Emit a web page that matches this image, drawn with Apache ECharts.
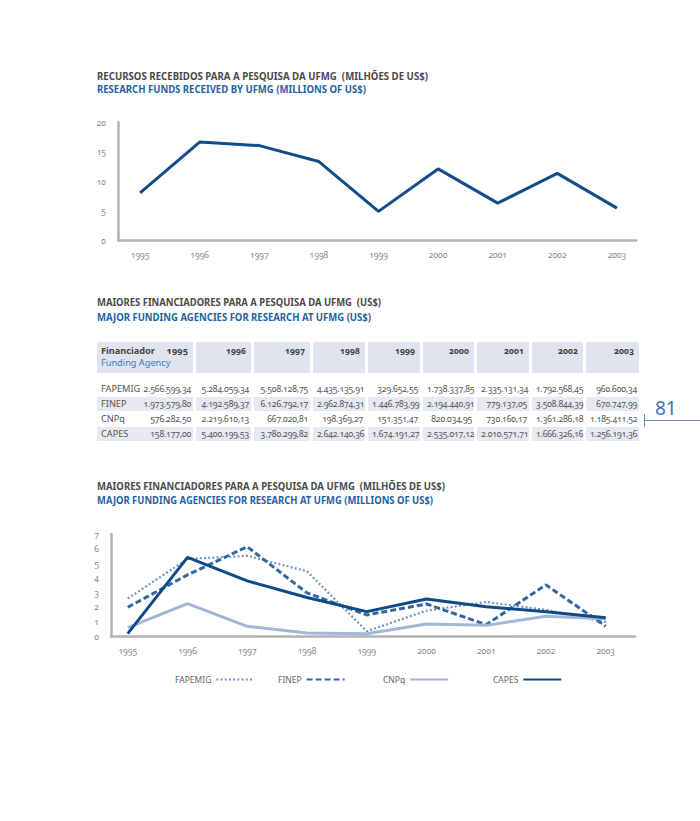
<!DOCTYPE html>
<html><head><meta charset="utf-8">
<script src="https://cdn.jsdelivr.net/npm/echarts@6/dist/echarts.min.js"></script>
<style>
html,body{margin:0;padding:0;background:#fff;width:700px;height:821px;overflow:hidden;}
#chart{position:absolute;left:0;top:0;width:700px;height:821px;}
.t{position:absolute;left:97px;white-space:nowrap;font-family:"Noto Sans";font-weight:700;font-size:10.5px;line-height:12px;transform-origin:0 50%;}
.g{color:#4a4a4a}.b{color:#1f62a4}
svg text{font-variant-numeric:oldstyle-nums !important;}
#tbl{position:absolute;left:94px;top:341px;width:546px;border-collapse:separate;border-spacing:3px 1px;table-layout:fixed;font-family:"Noto Sans";font-size:8.6px;letter-spacing:-0.15px;color:#555;font-variant-numeric:oldstyle-nums;}
#tbl td{padding:0 2px 0 4px;text-align:right;white-space:nowrap;height:14px;line-height:14px;overflow:visible;}
#tbl tr.h td{background:#dfe4ee;height:28px;vertical-align:top;line-height:12px;padding-top:3px;padding-right:5px;font-weight:700;color:#444;letter-spacing:0;}
#tbl tr.s td{height:7px;line-height:7px;}
#tbl tr.sh td{background:#e5e9f1;}
#tbl td.lab{text-align:left;padding-left:4px;font-size:9.2px;letter-spacing:0;}
#tbl td.lab span.r{float:right;font-size:8.6px;letter-spacing:-0.15px;}
#tbl tr.h td.lab span.r{font-size:9.2px;letter-spacing:0;}
#tbl .fa{font-weight:400;color:#3b7cc0;display:block;}
#pg{position:absolute;left:655px;top:398px;font-family:"Noto Sans";font-size:19px;color:#3a72b5;line-height:20px;}
#pgl{position:absolute;left:644px;top:420px;width:56px;height:1px;background:#6a8fc0;}
#pgt{position:absolute;left:644px;top:414px;width:1px;height:13px;background:#6a8fc0;}
</style></head>
<body>
<div id="chart"></div>
<div class="t g" style="top:70px" data-w="331">RECURSOS RECEBIDOS PARA A PESQUISA DA UFMG&nbsp; (MILHÕES DE US$)</div>
<div class="t b" style="top:83px" data-w="269">RESEARCH FUNDS RECEIVED BY UFMG (MILLIONS OF US$)</div>
<div class="t g" style="top:296px" data-w="284">MAIORES FINANCIADORES PARA A PESQUISA DA UFMG&nbsp; (US$)</div>
<div class="t b" style="top:311px" data-w="274">MAJOR FUNDING AGENCIES FOR RESEARCH AT UFMG (US$)</div>
<div class="t g" style="top:480px" data-w="348">MAIORES FINANCIADORES PARA A PESQUISA DA UFMG&nbsp; (MILHÕES DE US$)</div>
<div class="t b" style="top:494px" data-w="336">MAJOR FUNDING AGENCIES FOR RESEARCH AT UFMG (MILLIONS OF US$)</div>
<table id="tbl"></table>
<div id="pg">81</div><div id="pgl"></div><div id="pgt"></div>
<script>
// ---- data ----
const years = [1995, 1996, 1997, 1998, 1999, 2000, 2001, 2002, 2003];
const fundsMillions = [8.0, 16.6, 16.0, 13.3, 4.85, 12.05, 6.25, 11.3, 5.4];
const agencies = ['FAPEMIG', 'FINEP', 'CNPq', 'CAPES'];
const fapemig = [2566599.34, 5284059.34, 5508128.75, 4435135.91, 329652.55, 1738337.85, 2335131.34, 1792568.45, 960600.34];
const finep = [1973579.80, 4192589.37, 6126792.17, 2962874.31, 1446783.99, 2194440.91, 779137.05, 3508844.39, 670747.99];
const cnpq = [576282.50, 2219610.13, 667020.81, 198369.27, 151351.47, 820034.95, 730160.17, 1361286.18, 1185411.52];
const capes = [158177.00, 5400199.53, 3780299.82, 2642140.36, 1674191.27, 2535017.12, 2010571.71, 1666326.16, 1256191.36];
const agencyValues = [fapemig, finep, cnpq, capes];
const tableHeaderPT = 'Financiador';
const tableHeaderEN = 'Funding Agency';

// ---- fit titles ----
document.querySelectorAll('.t').forEach(el => {
  const w = el.getBoundingClientRect().width;
  el.style.transform = 'scaleX(' + (+el.dataset.w / w) + ')';
});

// ---- table ----
function fmt(v) {
  const s = v.toFixed(2);
  let [ip, dp] = s.split('.');
  ip = ip.replace(/\B(?=(\d{3})+(?!\d))/g, '.');
  return ip + ',' + dp;
}
const colW = [96, 55, 56, 52, 52, 51, 52, 51, 53];
const tbl = document.getElementById('tbl');
let html = '<colgroup>' + colW.map(w => '<col style="width:' + w + 'px">').join('') + '</colgroup>';
html += '<tr class="h"><td class="lab"><span class="r">' + years[0] + '</span>' + tableHeaderPT + '<span class="fa">' + tableHeaderEN + '</span></td>' +
  years.slice(1).map(y => '<td>' + y + '</td>').join('') + '</tr>';
html += '<tr class="s">' + years.map(() => '<td></td>').join('') + '</tr>';
agencies.forEach((a, i) => {
  const vals = agencyValues[i];
  html += '<tr class="' + (i % 2 ? 'sh' : '') + '"><td class="lab"><span class="r">' + fmt(vals[0]) + '</span>' + a + '</td>' +
    vals.slice(1).map(v => '<td>' + fmt(v) + '</td>').join('') + '</tr>';
});
tbl.innerHTML = html;

// ---- charts ----
const chart = echarts.init(document.getElementById('chart'), null, {renderer: 'svg'});
const axisGray = '#b3b3b3';
const labelStyle = {color: '#8a8a8a', fontSize: 8.5, fontFamily: 'Noto Sans'};
const pair = arr => arr.map((v, i) => [years[i], v]);
const toMillions = arr => arr.map(v => v / 1e6);
const agencyStyles = [
  {color: '#6b96c9', width: 2.2, type: [2, 2.2]},
  {color: '#33679f', width: 3, type: [6, 3]},
  {color: '#a2b7d7', width: 3, type: 'solid'},
  {color: '#0e4a86', width: 3, type: 'solid'}
];
const legendLeft = [170, 273, 378, 488];
function xAx(gi, min, max) {
  return {type: 'value', gridIndex: gi, min: min, max: max,
    axisLine: {show: true, lineStyle: {color: axisGray, width: 2.5}},
    axisTick: {show: false}, splitLine: {show: false},
    axisLabel: Object.assign({customValues: years, margin: 10, formatter: v => String(v)}, labelStyle)};
}
function yAx(gi, max, interval) {
  return {type: 'value', gridIndex: gi, min: 0, max: max, interval: interval,
    axisLine: {show: true, lineStyle: {color: axisGray, width: 2.5}},
    axisTick: {show: false}, splitLine: {show: false},
    axisLabel: Object.assign({margin: 12}, labelStyle)};
}
chart.setOption({
  animation: false,
  grid: [
    {left: 118, top: 122, width: 518, height: 118},
    {left: 111, top: 534, width: 524, height: 102}
  ],
  xAxis: [xAx(0, 1994.63, 2003.32), xAx(1, 1994.72, 2003.49)],
  yAxis: [yAx(0, 20, 5), yAx(1, 7, 1)],
  legend: agencies.map((a, i) => ({
    data: [a], left: legendLeft[i], top: 670, align: 'right', itemWidth: 38, itemHeight: 8, itemGap: 8,
    itemStyle: {opacity: 0},
    textStyle: {color: '#666', fontSize: 8.5, fontFamily: 'Noto Sans'}
  })),
  series: [
    {type: 'line', name: 'total', xAxisIndex: 0, yAxisIndex: 0, data: pair(fundsMillions),
     symbol: 'none', lineStyle: {color: '#124d89', width: 3}, itemStyle: {color: '#124d89'}}
  ].concat(agencies.map((a, i) => ({
    type: 'line', name: a, xAxisIndex: 1, yAxisIndex: 1, data: pair(toMillions(agencyValues[i])),
    symbol: 'none', lineStyle: agencyStyles[i], itemStyle: {color: agencyStyles[i].color}
  })))
});
</script>
</body></html>
